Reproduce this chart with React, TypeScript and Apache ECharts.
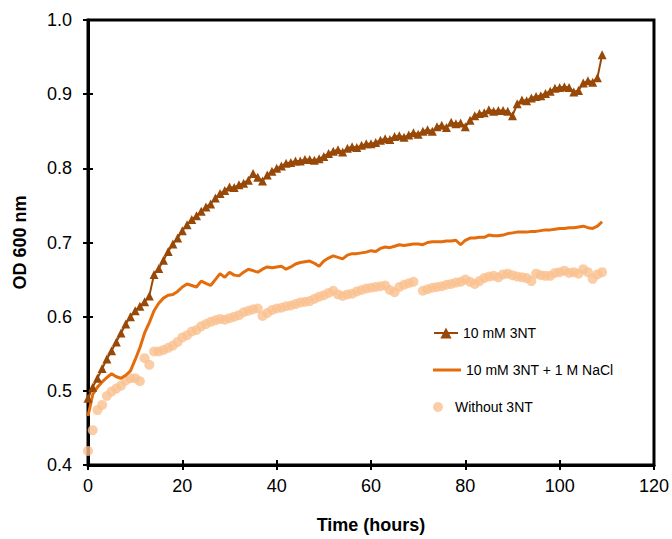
import React, { useEffect, useRef } from "react";
import * as echarts from "echarts";

const hours: number[] = Array.from({ length: 110 }, (_, i) => i);

const series3NT: number[] = [
  0.490, 0.505, 0.517, 0.530, 0.543, 0.554, 0.566, 0.578, 0.590, 0.600,
  0.608, 0.614, 0.620, 0.628, 0.657, 0.665, 0.676, 0.688, 0.698, 0.706,
  0.716, 0.724, 0.731, 0.736, 0.742, 0.748, 0.752, 0.760, 0.766, 0.770,
  0.775, 0.774, 0.778, 0.780, 0.784, 0.793, 0.788, 0.783, 0.791, 0.796,
  0.800, 0.803, 0.807, 0.808, 0.810, 0.810, 0.812, 0.812, 0.811, 0.813,
  0.816, 0.820, 0.823, 0.825, 0.822, 0.827, 0.829, 0.828, 0.831, 0.833,
  0.833, 0.835, 0.838, 0.840, 0.839, 0.843, 0.844, 0.842, 0.845, 0.848,
  0.846, 0.850, 0.852, 0.850, 0.856, 0.858, 0.855, 0.862, 0.860, 0.861,
  0.856, 0.865, 0.871, 0.874, 0.875, 0.879, 0.877, 0.878, 0.878, 0.877,
  0.871, 0.887, 0.892, 0.891, 0.895, 0.897, 0.898, 0.901, 0.904, 0.908,
  0.909, 0.910, 0.909, 0.903, 0.905, 0.915, 0.918, 0.916, 0.922, 0.953,
];

const series3NTNaCl: number[] = [
  0.466, 0.495, 0.505, 0.512, 0.518, 0.523, 0.519, 0.517, 0.521, 0.527,
  0.542, 0.558, 0.578, 0.592, 0.608, 0.618, 0.625, 0.629, 0.630, 0.634,
  0.640, 0.644, 0.642, 0.640, 0.648, 0.645, 0.642, 0.650, 0.658, 0.653,
  0.660, 0.656, 0.655, 0.660, 0.664, 0.662, 0.660, 0.664, 0.667, 0.666,
  0.667, 0.668, 0.664, 0.667, 0.671, 0.673, 0.674, 0.675, 0.672, 0.668,
  0.675, 0.679, 0.682, 0.680, 0.678, 0.683, 0.685, 0.685, 0.686, 0.687,
  0.689, 0.688, 0.692, 0.694, 0.693, 0.695, 0.697, 0.696, 0.697, 0.698,
  0.698, 0.697, 0.700, 0.701, 0.701, 0.701, 0.702, 0.702, 0.703, 0.697,
  0.703, 0.706, 0.706, 0.707, 0.707, 0.710, 0.709, 0.709, 0.710, 0.712,
  0.713, 0.714, 0.714, 0.714, 0.715, 0.715, 0.716, 0.717, 0.717, 0.718,
  0.719, 0.719, 0.720, 0.720, 0.721, 0.722, 0.720, 0.719, 0.722, 0.728,
];

const seriesWithout: (number | null)[] = [
  0.419, 0.447, 0.474, 0.481, 0.493, 0.499, 0.503, 0.507, 0.514, 0.517,
  0.517, 0.513, 0.544, 0.535, 0.553, 0.553, 0.555, 0.558, 0.561, 0.566,
  0.572, 0.575, 0.580, 0.582, 0.587, 0.590, 0.593, 0.595, 0.597, 0.596,
  0.598, 0.600, 0.602, 0.606, 0.608, 0.610, 0.611, 0.601, 0.605, 0.609,
  0.611, 0.612, 0.614, 0.615, 0.617, 0.619, 0.620, 0.621, 0.624, 0.627,
  0.629, 0.632, 0.635, 0.630, 0.628, 0.630, 0.631, 0.634, 0.636, 0.638,
  0.639, 0.640, 0.641, 0.642, 0.636, 0.633, 0.640, 0.643, 0.645, 0.647,
  null, 0.635, 0.637, 0.639, 0.640, 0.641, 0.643, 0.644, 0.646, 0.647,
  0.650, 0.647, 0.644, 0.648, 0.652, 0.654, 0.655, 0.653, 0.657, 0.658,
  0.656, 0.654, 0.653, 0.652, 0.648, 0.658, 0.656, 0.655, 0.655, 0.659,
  0.660, 0.662, 0.659, 0.660, 0.658, 0.664, 0.660, 0.651, 0.657, 0.660,
];

const seriesNames: string[] = ["10 mM 3NT", "10 mM 3NT + 1 M NaCl", "Without 3NT"];
const xTicks: number[] = [0, 20, 40, 60, 80, 100, 120];
const yTicks: number[] = [0.4, 0.5, 0.6, 0.7, 0.8, 0.9, 1.0];

const FONT = "'Liberation Sans', Arial, sans-serif";

function pairs(vals: (number | null)[]): [number, number][] {
  const out: [number, number][] = [];
  vals.forEach((v, i) => {
    if (v !== null) out.push([hours[i], v]);
  });
  return out;
}

export default function App() {
  const ref = useRef<HTMLDivElement>(null);

  useEffect(() => {
    if (!ref.current) return;
    const chart = echarts.init(ref.current, undefined, { renderer: "svg" });
    const baseX = {
      type: "value" as const,
      min: xTicks[0],
      max: xTicks[xTicks.length - 1],
      interval: 20,
      splitLine: { show: false },
    };
    const baseY = {
      type: "value" as const,
      min: yTicks[0],
      max: yTicks[yTicks.length - 1],
      interval: 0.1,
      splitLine: { show: false },
    };
    const legendText = { fontSize: 14, color: "#000", fontFamily: FONT };
    chart.setOption({
      animation: false,
      backgroundColor: "#ffffff",
      textStyle: { fontFamily: FONT },
      grid: {
        left: 88,
        right: 16,
        top: 20,
        bottom: 72,
        show: true,
        borderColor: "#000",
        borderWidth: 3,
      },
      legend: [
        {
          orient: "vertical",
          left: 433,
          top: 326,
          itemWidth: 24,
          itemHeight: 14,
          padding: 0,
          textStyle: legendText,
          data: [seriesNames[0]],
        },
        {
          orient: "vertical",
          left: 433,
          top: 363,
          itemWidth: 28,
          itemHeight: 3,
          padding: 0,
          textStyle: legendText,
          data: [{ name: seriesNames[1], icon: "rect" }],
        },
        {
          orient: "vertical",
          left: 433,
          top: 400,
          itemWidth: 24,
          itemHeight: 10,
          padding: 0,
          textStyle: legendText,
          data: [{ name: seriesNames[2], icon: "circle" }],
        },
      ],
      xAxis: [
        {
          ...baseX,
          name: "Time (hours)",
          nameLocation: "middle",
          nameGap: 51,
          nameTextStyle: { fontSize: 18, fontWeight: "bold", color: "#000", fontFamily: FONT },
          axisLine: { show: true, lineStyle: { color: "#000", width: 3 } },
          axisTick: { show: true, inside: false, length: 5, lineStyle: { color: "#000", width: 2 } },
          axisLabel: { fontSize: 18, color: "#000", margin: 12, fontFamily: FONT },
        },
        {
          ...baseX,
          position: "bottom",
          axisLine: { show: false },
          axisTick: { show: true, inside: true, length: 5, lineStyle: { color: "#000", width: 2 } },
          axisLabel: { show: false },
        },
      ],
      yAxis: [
        {
          ...baseY,
          name: "OD 600 nm",
          nameLocation: "middle",
          nameGap: 59,
          nameTextStyle: { fontSize: 18, fontWeight: "bold", color: "#000", fontFamily: FONT },
          axisLine: { show: true, lineStyle: { color: "#000", width: 3 } },
          axisTick: { show: true, inside: false, length: 5, lineStyle: { color: "#000", width: 2 } },
          axisLabel: {
            fontSize: 18,
            color: "#000",
            margin: 16,
            fontFamily: FONT,
            formatter: (v: number) => v.toFixed(1),
          },
        },
        {
          ...baseY,
          position: "left",
          axisLine: { show: false },
          axisTick: { show: true, inside: true, length: 5, lineStyle: { color: "#000", width: 2 } },
          axisLabel: { show: false },
        },
      ],
      series: [
        {
          name: seriesNames[2],
          type: "scatter",
          data: pairs(seriesWithout),
          symbol: "circle",
          symbolSize: 10,
          itemStyle: { color: "#FAC090" },
          z: 1,
        },
        {
          name: seriesNames[1],
          type: "line",
          data: pairs(series3NTNaCl),
          showSymbol: false,
          symbol: "none",
          lineStyle: { color: "#E46C0A", width: 3 },
          itemStyle: { color: "#E46C0A" },
          z: 2,
        },
        {
          name: seriesNames[0],
          type: "line",
          data: pairs(series3NT),
          symbol: "triangle",
          symbolSize: 9,
          showAllSymbol: true,
          lineStyle: { color: "#984807", width: 2 },
          itemStyle: { color: "#984807" },
          z: 3,
        },
      ],
    });
    return () => chart.dispose();
  }, []);

  return (
    <div
      ref={ref}
      style={{ position: "absolute", left: 0, top: 0, width: 672, height: 539 }}
    />
  );
}
